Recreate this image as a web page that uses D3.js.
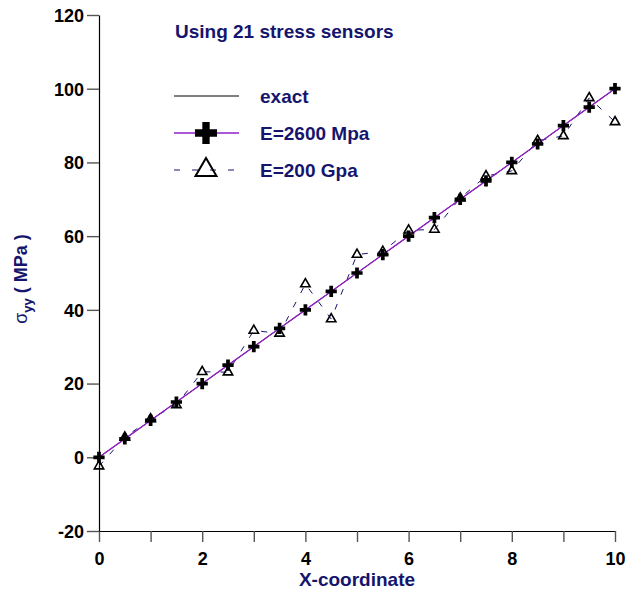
<!DOCTYPE html>
<html>
<head>
<meta charset="utf-8">
<script src="https://cdn.jsdelivr.net/npm/d3@7"></script>
<style>
  html, body { margin: 0; padding: 0; background: #fff; }
  svg { display: block; }
  text { font-family: "Liberation Sans", Arial, Helvetica, sans-serif; font-weight: bold; }
</style>
</head>
<body>
<svg id="chart" width="626" height="592"></svg>
<script>
// Sensor positions along the specimen
const xPositions = [0, 0.5, 1, 1.5, 2, 2.5, 3, 3.5, 4, 4.5, 5, 5.5, 6, 6.5, 7, 7.5, 8, 8.5, 9, 9.5, 10];
// Exact solution end points
const exactX = [0, 10];
const exactY = [0, 100];
// Reconstructed stress, E = 2600 MPa
const stressSoft = [0, 5, 10, 15, 20, 25, 30, 35, 40, 45, 50, 55, 60, 65, 70, 75, 80, 85, 90, 95, 100];
// Reconstructed stress, E = 200 GPa
const stressStiff = [-2.4, 5.4, 10.4, 14.2, 23.2, 23.1, 34.4, 33.6, 47, 37.5, 55, 55.8, 61.6, 61.8, 70.3, 76.3, 77.7, 85.9, 87.2, 97.5, 91];
const xTicks = [0, 1, 2, 3, 4, 5, 6, 7, 8, 9, 10];
const yTicks = [-20, 0, 20, 40, 60, 80, 100, 120];

const navy = "#15156e";
const purple = "#9420c8";

const svg = d3.select("#chart");
const x = d3.scaleLinear().domain([0, 10]).range([99, 615]);
const y = d3.scaleLinear().domain([-20, 120]).range([531, 15]);

// Axes
const xAxis = svg.append("g").attr("transform", `translate(0,${y(-20)})`)
  .call(d3.axisBottom(x).tickValues(xTicks).tickSize(11).tickSizeOuter(0)
    .tickFormat(d => d % 2 === 0 ? String(d) : ""));
const yAxis = svg.append("g").attr("transform", `translate(${x(0)},0)`)
  .call(d3.axisLeft(y).tickValues(yTicks).tickSize(12).tickSizeOuter(0)
    .tickFormat(d => String(d)));

[xAxis, yAxis].forEach(g => {
  g.select(".domain").attr("stroke", "#000").attr("stroke-width", 1.2);
  g.selectAll(".tick line").attr("stroke", "#555").attr("stroke-width", 1.4);
  g.selectAll(".tick text").attr("fill", "#000").attr("font-size", 18)
    .attr("font-family", "'Liberation Sans', Arial, sans-serif").attr("font-weight", "bold");
});
xAxis.selectAll(".tick text").attr("dy", 0).attr("y", 34);
yAxis.selectAll(".tick text").attr("x", -15).attr("dy", "0.35em");

// Axis titles
svg.append("text").attr("x", (x(0) + x(10)) / 2).attr("y", 586)
  .attr("text-anchor", "middle").attr("fill", navy).attr("font-size", 19)
  .text("X-coordinate");

const yt = svg.append("text").attr("transform", `translate(27,279) rotate(-90)`)
  .attr("text-anchor", "middle").attr("fill", navy).attr("font-size", 18);
yt.append("tspan").attr("font-weight", "normal").text("σ");
yt.append("tspan").attr("font-size", 13).attr("dy", 5).text("yy");
yt.append("tspan").attr("dy", -5).text(" ( MPa )");

// Lines
const line = d3.line().x(d => x(d[0])).y(d => y(d[1]));
const exactPts = exactX.map((v, i) => [v, exactY[i]]);
const softPts = xPositions.map((v, i) => [v, stressSoft[i]]);
const stiffPts = xPositions.map((v, i) => [v, stressStiff[i]]);

svg.append("path").attr("d", line(exactPts)).attr("fill", "none")
  .attr("stroke", "#000").attr("stroke-width", 1);
svg.append("path").attr("d", line(stiffPts)).attr("fill", "none")
  .attr("stroke", navy).attr("stroke-width", 1).attr("stroke-dasharray", "6,10");
svg.append("path").attr("d", line(softPts)).attr("fill", "none")
  .attr("stroke", purple).attr("stroke-width", 1.3);

// Markers
const tri = d3.symbol().type(d3.symbolTriangle).size(38);
const cross = d3.symbol().type(d3.symbolCross).size(70);
svg.append("g").selectAll("path").data(stiffPts).join("path")
  .attr("d", tri).attr("transform", d => `translate(${x(d[0])},${y(d[1])})`)
  .attr("fill", "none").attr("stroke", "#000").attr("stroke-width", 1.6);
svg.append("g").selectAll("path").data(softPts).join("path")
  .attr("d", cross).attr("transform", d => `translate(${x(d[0])},${y(d[1])})`)
  .attr("fill", "#000");

// Title
svg.append("text").attr("x", 175).attr("y", 38).attr("fill", navy)
  .attr("font-size", 19).text("Using 21 stress sensors");

// Legend
const legend = [
  { label: "exact", y: 96 },
  { label: "E=2600 Mpa", y: 133 },
  { label: "E=200 Gpa", y: 170 }
];
const lx0 = 174, lx1 = 239, lxm = 206;
svg.append("line").attr("x1", lx0).attr("x2", lx1).attr("y1", legend[0].y).attr("y2", legend[0].y)
  .attr("stroke", "#000").attr("stroke-width", 1);
svg.append("line").attr("x1", lx0).attr("x2", lx1).attr("y1", legend[1].y).attr("y2", legend[1].y)
  .attr("stroke", purple).attr("stroke-width", 1.3);
svg.append("path").attr("d", d3.symbol().type(d3.symbolCross).size(270)())
  .attr("transform", `translate(${lxm},${legend[1].y})`).attr("fill", "#000");
svg.append("line").attr("x1", lx0).attr("x2", lx1).attr("y1", legend[2].y).attr("y2", legend[2].y)
  .attr("stroke", navy).attr("stroke-width", 1).attr("stroke-dasharray", "6,12");
svg.append("path").attr("d", d3.symbol().type(d3.symbolTriangle).size(190)())
  .attr("transform", `translate(${lxm},${legend[2].y})`).attr("fill", "none")
  .attr("stroke", "#000").attr("stroke-width", 2);
svg.append("g").selectAll("text").data(legend).join("text")
  .attr("x", 260).attr("y", d => d.y + 7).attr("fill", navy).attr("font-size", 19)
  .text(d => d.label);
</script>
</body>
</html>
